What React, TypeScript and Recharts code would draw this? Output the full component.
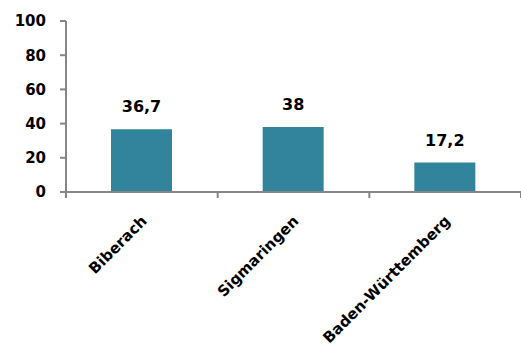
import { BarChart, Bar, XAxis, YAxis, LabelList } from 'recharts';

const regions = ['Biberach', 'Sigmaringen', 'Baden-Württemberg'];
const values = [36.7, 38, 17.2];
const yTicks = [0, 20, 40, 60, 80, 100];

const data = regions.map((name, i) => ({ name, value: values[i] }));

const font = '"DejaVu Sans", sans-serif';
const axisColor = '#868686';

function CategoryTick(props: any) {
  const { x, y, payload, index } = props;
  const half = payload && payload.offset ? payload.offset : 0;
  const last = index === regions.length - 1;
  return (
    <g>
      <line x1={x - half} y1={y} x2={x - half} y2={y + 6} stroke={axisColor} strokeWidth={2} />
      {last && <line x1={x + half} y1={y} x2={x + half} y2={y + 6} stroke={axisColor} strokeWidth={2} />}
      <text
        x={x + 6}
        y={y + 30}
        transform={`rotate(-45 ${x + 6} ${y + 30})`}
        textAnchor="end"
        fontFamily={font}
        fontWeight="bold"
        fontSize={15}
        fill="#000"
      >
        {payload.value}
      </text>
    </g>
  );
}

export default function App() {
  return (
    <div style={{ position: 'absolute', left: 0, top: 0 }}>
      <BarChart
        width={521}
        height={349}
        data={data}
        margin={{ top: 21, right: 0, bottom: 0, left: 0 }}
      >
        <XAxis
          dataKey="name"
          height={157}
          interval={0}
          tickLine={false}
          tickSize={0}
          tickMargin={0}
          axisLine={{ stroke: axisColor, strokeWidth: 2 }}
          tick={<CategoryTick />}
        />
        <YAxis
          width={66}
          domain={[0, 100]}
          ticks={yTicks}
          interval={0}
          tickSize={6}
          tickMargin={14}
          axisLine={{ stroke: axisColor, strokeWidth: 2 }}
          tickLine={{ stroke: axisColor, strokeWidth: 2 }}
          tick={{ fontFamily: font, fontWeight: 'bold', fontSize: 15, fill: '#000' }}
        />
        <Bar dataKey="value" fill="#31849B" barSize={61} isAnimationActive={false}>
          <LabelList
            dataKey="value"
            position="top"
            offset={17}
            formatter={(v: any) => String(v).replace('.', ',')}
            style={{ fontFamily: font, fontWeight: 'bold', fontSize: 16, fill: '#000' }}
          />
        </Bar>
      </BarChart>
    </div>
  );
}
